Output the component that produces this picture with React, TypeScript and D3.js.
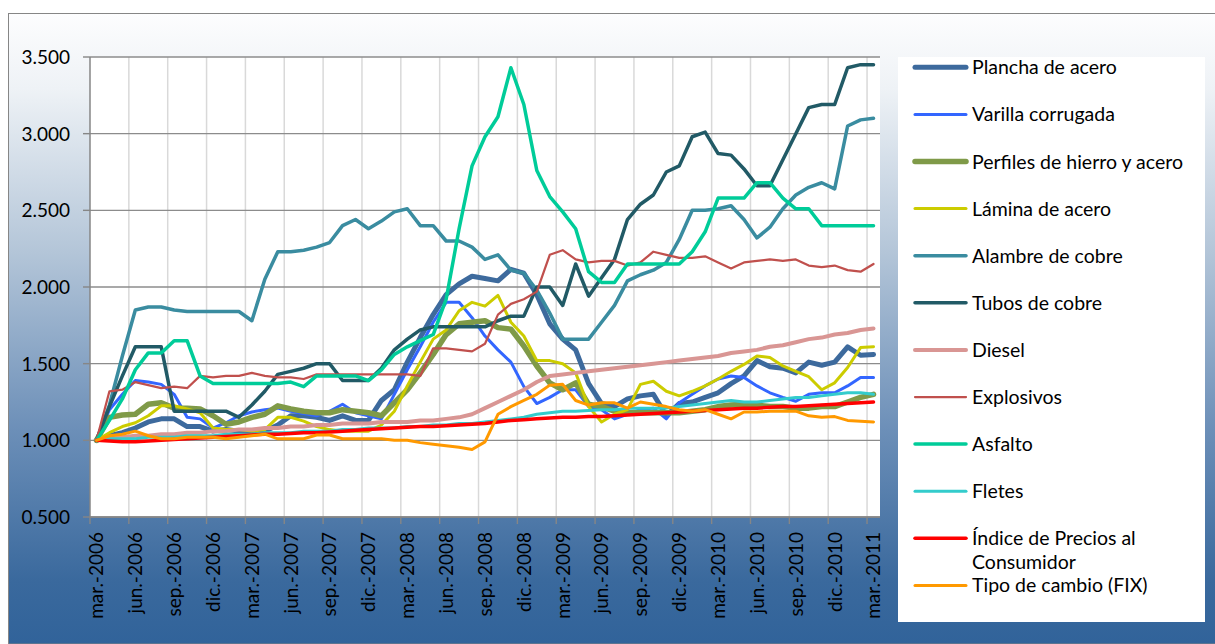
import * as d3 from "d3";

const W = 1215;
const H = 644;
const plotLeft = 90;
const plotRight = 880;
const plotTop = 57;
const plotBottom = 517;
const font = "Lato, 'Open Sans', sans-serif";

// etiquetas del eje x (cada 3 meses)
const tickLabels = [
  "mar.-2006", "jun.-2006", "sep.-2006", "dic.-2006",
  "mar.-2007", "jun.-2007", "sep.-2007", "dic.-2007",
  "mar.-2008", "jun.-2008", "sep.-2008", "dic.-2008",
  "mar.-2009", "jun.-2009", "sep.-2009", "dic.-2009",
  "mar.-2010", "jun.-2010", "sep.-2010", "dic.-2010",
  "mar.-2011",
];
const yTicks = [0.5, 1, 1.5, 2, 2.5, 3, 3.5];

const plancha = [1.00,1.03,1.05,1.08,1.12,1.14,1.14,1.09,1.09,1.06, 1.07,1.06,1.05,1.06,1.10,1.16,1.16,1.15,1.13,1.16, 1.13,1.13,1.26,1.33,1.51,1.67,1.82,1.95,2.02,2.07, 2.055,2.04,2.115,2.09,1.95,1.76,1.66,1.59,1.37,1.24, 1.22,1.27,1.29,1.30,1.16,1.24,1.25,1.28,1.31,1.37, 1.42,1.52,1.48,1.47,1.44,1.51,1.49,1.51,1.61,1.555, 1.56];
const varilla = [1.00,1.20,1.30,1.39,1.38,1.365,1.30,1.15,1.14,1.08, 1.115,1.16,1.185,1.20,1.21,1.19,1.175,1.16,1.19,1.235, 1.18,1.16,1.14,1.30,1.46,1.61,1.77,1.90,1.90,1.80, 1.68,1.59,1.51,1.35,1.24,1.28,1.33,1.33,1.22,1.20, 1.14,1.17,1.20,1.21,1.14,1.245,1.30,1.355,1.40,1.42, 1.41,1.355,1.31,1.28,1.255,1.30,1.31,1.31,1.355,1.41, 1.41];
const perfiles = [1.00,1.15,1.165,1.17,1.235,1.245,1.21,1.21,1.205,1.16, 1.105,1.12,1.15,1.17,1.225,1.205,1.19,1.18,1.18,1.20, 1.19,1.18,1.16,1.245,1.33,1.44,1.56,1.69,1.76,1.77, 1.78,1.735,1.725,1.615,1.485,1.375,1.33,1.375,1.235,1.22, 1.19,1.18,1.18,1.18,1.18,1.18,1.19,1.20,1.22,1.23, 1.235,1.23,1.22,1.22,1.21,1.21,1.22,1.22,1.25,1.28, 1.30];
const lamina = [1.00,1.05,1.09,1.115,1.16,1.225,1.225,1.205,1.18,1.08, 1.07,1.07,1.06,1.07,1.15,1.15,1.125,1.09,1.07,1.06, 1.06,1.06,1.10,1.19,1.355,1.51,1.66,1.72,1.845,1.90, 1.875,1.945,1.77,1.68,1.52,1.52,1.50,1.44,1.22,1.12, 1.17,1.20,1.365,1.385,1.32,1.29,1.32,1.355,1.40,1.45, 1.495,1.55,1.54,1.485,1.45,1.415,1.33,1.375,1.475,1.605, 1.61];
const alambre = [1.00,1.23,1.55,1.85,1.87,1.87,1.85,1.84,1.84,1.84, 1.84,1.84,1.78,2.05,2.23,2.23,2.24,2.26,2.29,2.40, 2.44,2.38,2.43,2.49,2.51,2.40,2.40,2.30,2.30,2.26, 2.18,2.21,2.11,2.09,1.98,1.83,1.66,1.66,1.66,1.77, 1.88,2.04,2.08,2.11,2.16,2.31,2.50,2.50,2.51,2.53, 2.44,2.32,2.39,2.51,2.60,2.65,2.68,2.64,3.05,3.09, 3.10];
const tubos = [1.00,1.22,1.42,1.61,1.61,1.61,1.19,1.19,1.19,1.19, 1.19,1.15,1.23,1.32,1.43,1.45,1.47,1.50,1.50,1.39, 1.39,1.39,1.47,1.59,1.66,1.72,1.74,1.74,1.74,1.74, 1.74,1.78,1.81,1.81,2.00,2.00,1.88,2.15,1.94,2.06, 2.18,2.44,2.54,2.60,2.75,2.79,2.98,3.01,2.87,2.86, 2.77,2.66,2.66,2.83,3.00,3.17,3.19,3.19,3.43,3.45, 3.45];
const diesel = [1.00,1.01,1.02,1.03,1.03,1.04,1.04,1.05,1.05,1.06, 1.06,1.07,1.07,1.08,1.08,1.09,1.09,1.10,1.10,1.11, 1.11,1.11,1.12,1.12,1.12,1.13,1.13,1.14,1.15,1.17, 1.21,1.25,1.29,1.33,1.38,1.42,1.43,1.44,1.45,1.46, 1.47,1.48,1.49,1.50,1.51,1.52,1.53,1.54,1.55,1.57, 1.58,1.59,1.61,1.62,1.64,1.66,1.67,1.69,1.70,1.72, 1.73];
const explosivos = [1.00,1.32,1.33,1.38,1.36,1.34,1.35,1.34,1.42,1.41, 1.42,1.42,1.44,1.42,1.41,1.41,1.40,1.43,1.43,1.43, 1.43,1.43,1.43,1.43,1.43,1.42,1.60,1.60,1.59,1.58, 1.63,1.82,1.89,1.92,1.97,2.21,2.24,2.18,2.16,2.17, 2.17,2.14,2.16,2.23,2.21,2.19,2.19,2.20,2.16,2.12, 2.16,2.17,2.18,2.17,2.18,2.14,2.13,2.14,2.11,2.10, 2.15];
const asfalto = [1.00,1.13,1.27,1.46,1.57,1.57,1.65,1.65,1.42,1.37, 1.37,1.37,1.37,1.37,1.37,1.38,1.35,1.42,1.42,1.42, 1.42,1.39,1.46,1.56,1.61,1.65,1.69,1.92,2.38,2.79, 2.98,3.11,3.43,3.19,2.76,2.59,2.49,2.38,2.10,2.03, 2.03,2.15,2.15,2.15,2.15,2.15,2.23,2.36,2.58,2.58, 2.58,2.68,2.68,2.58,2.51,2.51,2.40,2.40,2.40,2.40, 2.40];
const fletes = [1.00,1.01,1.01,1.01,1.02,1.02,1.02,1.03,1.03,1.03, 1.04,1.04,1.04,1.05,1.05,1.05,1.06,1.06,1.06,1.07, 1.07,1.08,1.08,1.08,1.09,1.09,1.10,1.10,1.11,1.11, 1.12,1.13,1.14,1.15,1.17,1.18,1.19,1.19,1.195,1.20, 1.20,1.21,1.21,1.21,1.21,1.22,1.23,1.24,1.25,1.26, 1.25,1.25,1.26,1.27,1.28,1.28,1.29,1.30,1.31,1.31, 1.30];
const ipc = [1.00,0.995,0.99,0.99,0.995,1.00,1.005,1.01,1.015,1.02, 1.025,1.03,1.035,1.04,1.04,1.045,1.05,1.05,1.055,1.06, 1.065,1.07,1.075,1.08,1.085,1.09,1.09,1.095,1.10,1.105, 1.11,1.12,1.13,1.135,1.14,1.145,1.15,1.15,1.155,1.155, 1.16,1.165,1.17,1.175,1.18,1.185,1.19,1.195,1.20,1.205, 1.21,1.21,1.215,1.22,1.22,1.225,1.23,1.235,1.24,1.245, 1.25];
const tipoCambio = [1.00,1.03,1.04,1.06,1.03,1.01,1.01,1.02,1.02,1.02, 1.01,1.02,1.03,1.04,1.01,1.01,1.01,1.035,1.035,1.01, 1.01,1.01,1.01,1.00,1.00,0.985,0.975,0.965,0.955,0.94, 0.99,1.17,1.22,1.26,1.30,1.36,1.365,1.26,1.23,1.245, 1.245,1.21,1.25,1.235,1.22,1.20,1.19,1.20,1.17,1.14, 1.185,1.185,1.19,1.19,1.19,1.16,1.15,1.155,1.13,1.125, 1.12];

const series = [
  { name: "Plancha de acero", values: plancha, color: "#3d6a9d", width: 5 },
  { name: "Varilla corrugada", values: varilla, color: "#3366ff", width: 3 },
  { name: "Perfiles de hierro y acero", values: perfiles, color: "#7f9a48", width: 5.5 },
  { name: "Lámina de acero", values: lamina, color: "#cccc00", width: 3 },
  { name: "Alambre de cobre", values: alambre, color: "#3a8ca0", width: 3.5 },
  { name: "Tubos de cobre", values: tubos, color: "#215a66", width: 3.5 },
  { name: "Diesel", values: diesel, color: "#d99694", width: 4 },
  { name: "Explosivos", values: explosivos, color: "#c0504d", width: 2.25 },
  { name: "Asfalto", values: asfalto, color: "#00cc99", width: 3.5 },
  { name: "Fletes", values: fletes, color: "#33cccc", width: 3 },
  { name: "Índice de Precios al Consumidor", values: ipc, color: "#ff0000", width: 3.5 },
  { name: "Tipo de cambio (FIX)", values: tipoCambio, color: "#ff9900", width: 3 },
];

const n = plancha.length;

const App = () => {
  const x = d3.scaleLinear().domain([0, n]).range([plotLeft, plotRight]);
  const y = d3.scaleLinear().domain([0.5, 3.5]).range([plotBottom, plotTop]);
  const fmt = d3.format(".3f");

  const line = d3
    .line<number>()
    .x((_, i) => x(i + 0.5))
    .y((d) => y(d));

  const tickIdx = tickLabels.map((_, k) => k * 3);

  return (
    <div style={{ position: "absolute", left: 0, top: 0 }}>
      <svg width={W} height={H} viewBox={`0 0 ${W} ${H}`} style={{ display: "block" }}>
        <defs>
          <linearGradient id="bg" x1="0" y1="0" x2="0" y2="1">
            <stop offset="0" stopColor="#fdfdfe" />
            <stop offset="0.12" stopColor="#eef2f6" />
            <stop offset="0.38" stopColor="#b3c5d8" />
            <stop offset="0.66" stopColor="#6c8fb8" />
            <stop offset="0.9" stopColor="#3a699d" />
            <stop offset="1" stopColor="#31639a" />
          </linearGradient>
        </defs>
        <rect x={8.5} y={13.5} width={W} height={H - 13.5} fill="url(#bg)" stroke="#868686" strokeWidth={1} />

        {/* área de trazado */}
        <rect x={plotLeft} y={plotTop} width={plotRight - plotLeft} height={plotBottom - plotTop} fill="#ffffff" />

        {/* líneas verticales */}
        {tickIdx.slice(1).map((i) => (
          <line key={"v" + i} x1={x(i)} x2={x(i)} y1={plotTop} y2={plotBottom} stroke="#d9d9d9" strokeWidth={1.5} />
        ))}
        {/* líneas horizontales */}
        {yTicks.map((t) => (
          <line key={"h" + t} x1={plotLeft} x2={plotRight} y1={y(t)} y2={y(t)} stroke="#8c8c8c" strokeWidth={1.4} />
        ))}

        {/* eje y */}
        <line x1={plotLeft} x2={plotLeft} y1={plotTop} y2={plotBottom} stroke="#868686" strokeWidth={1.5} />
        {yTicks.map((t) => (
          <g key={"yt" + t}>
            <line x1={plotLeft - 7} x2={plotLeft} y1={y(t)} y2={y(t)} stroke="#868686" strokeWidth={1.4} />
            <text x={70} y={y(t)} dy="0.36em" textAnchor="end" fontFamily={font} fontSize={19} fill="#000">
              {fmt(t)}
            </text>
          </g>
        ))}

        {/* eje x */}
        <line x1={plotLeft} x2={plotRight} y1={plotBottom} y2={plotBottom} stroke="#868686" strokeWidth={1.5} />
        {tickIdx.map((i, k) => (
          <g key={"xt" + i}>
            <line x1={x(i)} x2={x(i)} y1={plotBottom} y2={plotBottom + 7} stroke="#868686" strokeWidth={1.4} />
            <text
              transform={`translate(${x(i + 0.5)},${plotBottom + 15}) rotate(-90)`}
              dy="0.36em"
              textAnchor="end"
              fontFamily={font}
              fontSize={19}
              fill="#000"
            >
              {tickLabels[k]}
            </text>
          </g>
        ))}

        {/* series */}
        {series.map((s) => (
          <path
            key={s.name}
            d={line(s.values) ?? ""}
            fill="none"
            stroke={s.color}
            strokeWidth={s.width}
            strokeLinejoin="round"
            strokeLinecap="round"
          />
        ))}

        {/* leyenda */}
        <rect x={898} y={57} width={307} height={565} fill="#ffffff" />
        {series.map((s, k) => {
          const cy = 67.3 + k * 47.1;
          const parts = s.name === "Índice de Precios al Consumidor" ? ["Índice de Precios al", "Consumidor"] : [s.name];
          return (
            <g key={"lg" + s.name}>
              <line x1={915} x2={966} y1={cy} y2={cy} stroke={s.color} strokeWidth={s.width} strokeLinecap="round" />
              <text x={972} y={cy} fontFamily={font} fontSize={19.5} fill="#000">
                {parts.map((p, j) => (
                  <tspan key={j} x={972} dy={j === 0 ? "0.36em" : 24}>
                    {p}
                  </tspan>
                ))}
              </text>
            </g>
          );
        })}
      </svg>
    </div>
  );
};

export default App;
